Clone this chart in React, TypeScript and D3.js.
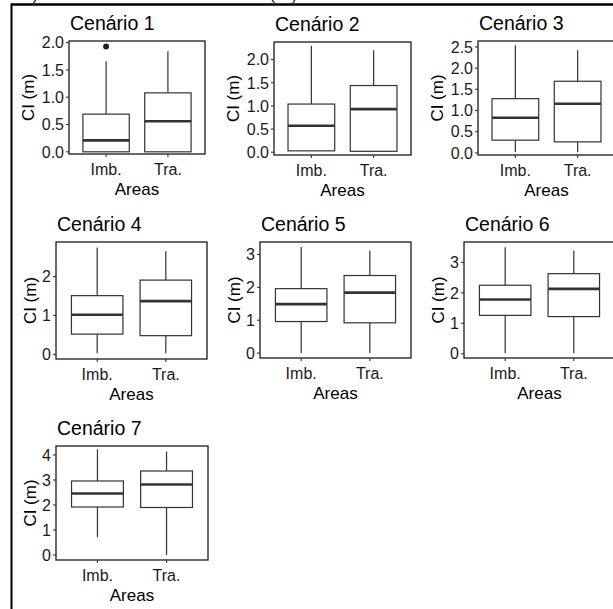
import React from 'react';
import * as d3 from 'd3';

// categories on the x axis
const categories = ['Imb.', 'Tra.'];

const scenarioTitles = ['Cenário 1', 'Cenário 2', 'Cenário 3', 'Cenário 4', 'Cenário 5', 'Cenário 6', 'Cenário 7'];

// box stats per scenario: [lower whisker, q1, median, q3, upper whisker]
const imbStats = [
  [0.0, 0.0, 0.21, 0.69, 1.66],
  [0.03, 0.03, 0.57, 1.04, 2.3],
  [0.02, 0.3, 0.83, 1.28, 2.54],
  [0.03, 0.52, 1.02, 1.51, 2.75],
  [0.0, 0.96, 1.49, 1.96, 3.23],
  [0.02, 1.26, 1.78, 2.25, 3.5],
  [0.71, 1.92, 2.46, 2.96, 4.23],
];
const traStats = [
  [0.0, 0.0, 0.56, 1.08, 1.84],
  [0.02, 0.02, 0.93, 1.44, 2.2],
  [0.02, 0.26, 1.16, 1.69, 2.42],
  [0.03, 0.48, 1.37, 1.91, 2.65],
  [0.0, 0.92, 1.84, 2.36, 3.12],
  [0.02, 1.22, 2.13, 2.63, 3.39],
  [0.0, 1.9, 2.82, 3.36, 4.14],
];
const imbOutliers = [[1.93], [], [], [], [], [], []];
const traOutliers = [[], [], [], [], [], [], []];

const yTicks = [
  [0, 0.5, 1, 1.5, 2],
  [0, 0.5, 1, 1.5, 2],
  [0, 0.5, 1, 1.5, 2, 2.5],
  [0, 1, 2],
  [0, 1, 2, 3],
  [0, 1, 2, 3],
  [0, 1, 2, 3, 4],
];
const yDomains = [
  [-0.04, 2.03],
  [-0.06, 2.38],
  [-0.05, 2.64],
  [-0.12, 2.89],
  [-0.15, 3.38],
  [-0.14, 3.67],
  [-0.2, 4.36],
];

const yLabel = 'CI (m)';
const xLabel = 'Areas';

// plot panel rectangles (pixels)
const panels = [
  { x0: 69, x1: 205, y0: 41, y1: 154, fmt: '.1f' },
  { x0: 274, x1: 411, y0: 42, y1: 155, fmt: '.1f' },
  { x0: 478, x1: 615, y0: 41, y1: 155, fmt: '.1f' },
  { x0: 56, x1: 207, y0: 242, y1: 359, fmt: 'd' },
  { x0: 260, x1: 411, y0: 242, y1: 358, fmt: 'd' },
  { x0: 464, x1: 615, y0: 242, y1: 358, fmt: 'd' },
  { x0: 56, x1: 208, y0: 446, y1: 560, fmt: 'd' },
];

const FONT = '"Liberation Sans", Arial, Helvetica, sans-serif';
const LINE = '#333333';

function Panel({ i }: { i: number }) {
  const p = panels[i];
  const x = d3.scalePoint<string>().domain(categories).range([p.x0, p.x1]).padding(0.6);
  const y = d3.scaleLinear().domain(yDomains[i]).range([p.y1, p.y0]);
  const bw = x.step() * 0.75;
  const fmt = d3.format(p.fmt);
  const stats = [imbStats[i], traStats[i]];
  const outs = [imbOutliers[i], traOutliers[i]];
  const labelW = p.fmt === 'd' ? 9 : 24;
  const yTitleX = p.x0 - 5 - labelW - 12;
  const midY = (p.y0 + p.y1) / 2;
  const midX = (p.x0 + p.x1) / 2;

  return (
    <g>
      <text x={p.x0 + 1} y={p.y0 - 11} fontSize={19.5} fill="#000">{scenarioTitles[i]}</text>
      <rect x={p.x0} y={p.y0} width={p.x1 - p.x0} height={p.y1 - p.y0} fill="#fff" />
      {categories.map((c, k) => {
        const [lo, q1, med, q3, hi] = stats[k];
        const cx = x(c)!;
        return (
          <g key={c}>
            <line x1={cx} x2={cx} y1={y(hi)} y2={y(q3)} stroke={LINE} strokeWidth={1.2} />
            <line x1={cx} x2={cx} y1={y(q1)} y2={y(lo)} stroke={LINE} strokeWidth={1.2} />
            <rect x={cx - bw / 2} y={y(q3)} width={bw} height={y(q1) - y(q3)} fill="#fff" stroke={LINE} strokeWidth={1.2} />
            <line x1={cx - bw / 2} x2={cx + bw / 2} y1={y(med)} y2={y(med)} stroke={LINE} strokeWidth={2.6} />
            {outs[k].map((v, j) => (
              <circle key={j} cx={cx} cy={y(v)} r={3} fill="#222" />
            ))}
          </g>
        );
      })}
      <rect x={p.x0} y={p.y0} width={p.x1 - p.x0} height={p.y1 - p.y0} fill="none" stroke="#1a1a1a" strokeWidth={1.3} />
      {yTicks[i].map((t) => (
        <g key={t}>
          <line x1={p.x0 - 3} x2={p.x0} y1={y(t)} y2={y(t)} stroke={LINE} strokeWidth={1.1} />
          <text x={p.x0 - 5} y={y(t)} dy="0.36em" textAnchor="end" fontSize={16} fill="#1a1a1a">{fmt(t)}</text>
        </g>
      ))}
      {categories.map((c) => (
        <g key={c}>
          <line x1={x(c)} x2={x(c)} y1={p.y1} y2={p.y1 + 3} stroke={LINE} strokeWidth={1.1} />
          <text x={x(c)} y={p.y1 + 21} textAnchor="middle" fontSize={16} fill="#1a1a1a">{c}</text>
        </g>
      ))}
      <text x={midX} y={p.y1 + 41} textAnchor="middle" fontSize={17} fill="#000">{xLabel}</text>
      <text transform={`translate(${yTitleX},${midY}) rotate(-90)`} textAnchor="middle" dy="0.36em" fontSize={17} fill="#000">{yLabel}</text>
    </g>
  );
}

export default function App() {
  const W = 613;
  const H = 609;
  return (
    <svg width={W} height={H} style={{ position: 'absolute', left: 0, top: 0, background: '#fff' }} fontFamily={FONT}>
      <rect width={W} height={H} fill="#fff" />
      {/* figure heading, cut off by the crop as in the source */}
      <text x={22} y={-0.5} fontSize={15} textLength={275} fill="#000">a) Resultados dos cenários (m)</text>
      <line x1={11} x2={W} y1={4.5} y2={4.5} stroke="#000" strokeWidth={2.5} />
      <line x1={11.5} x2={11.5} y1={3.5} y2={H} stroke="#000" strokeWidth={2} />
      {panels.map((_, i) => (
        <Panel key={i} i={i} />
      ))}
    </svg>
  );
}
